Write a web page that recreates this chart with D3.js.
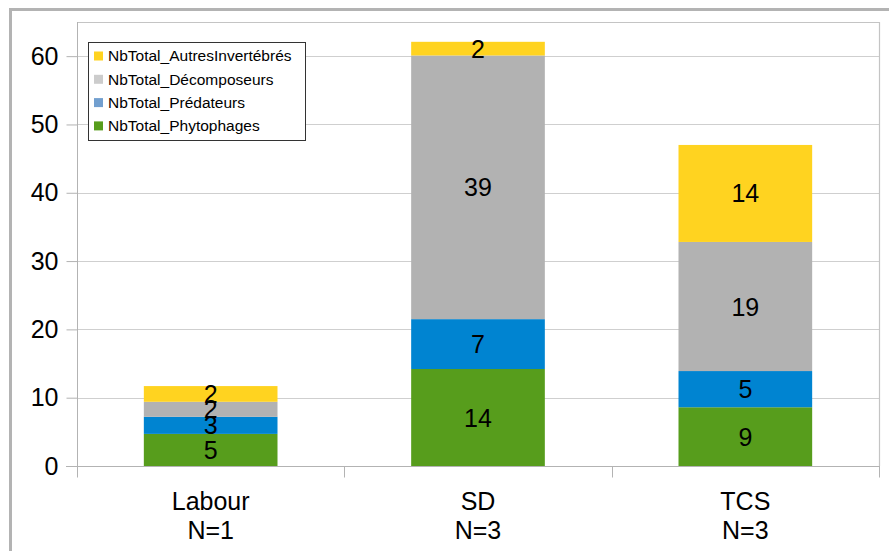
<!DOCTYPE html>
<html>
<head>
<meta charset="utf-8">
<script src="https://cdn.jsdelivr.net/npm/d3@7"></script>
<style>
  body { margin: 0; background: #fff; }
  text { font-family: "Liberation Sans", Arial, sans-serif; }
</style>
</head>
<body>
<svg id="chart" width="889" height="551"></svg>
<script>
// data (means, labels are rounded)
const categories = ["Labour", "SD", "TCS"]
const counts = ["N=1", "N=3", "N=3"]
const seriesNames = ["NbTotal_Phytophages", "NbTotal_Prédateurs", "NbTotal_Décomposeurs", "NbTotal_AutresInvertébrés"]
const phytophages = [4.7, 14.2, 8.6]
const predateurs = [2.5, 7.3, 5.3]
const decomposeurs = [2.2, 38.6, 18.9]
const autres = [2.3, 2.0, 14.2]
const yTicks = [0, 10, 20, 30, 40, 50, 60]

const barColors = ["#579d1c", "#0084d1", "#b2b2b2", "#ffd320"]
const legendColors = ["#579d1c", "#729fcf", "#cccccc", "#ffd320"]

const rows = categories.map((c, i) => ({
    cat: c,
    s0: phytophages[i],
    s1: predateurs[i],
    s2: decomposeurs[i],
    s3: autres[i]
}))
const keys = ["s0", "s1", "s2", "s3"]
const stacked = d3.stack().keys(keys)(rows)

let svg = d3.select("#chart")
let margin = {left: 77, right: 10, top: 22, bottom: 85}
let x0 = 77, x1 = 879, y0 = 466, yTop = 22

// outer frame of the chart object
svg.append("path")
    .attr("d", "M10.5,560 V9.5 H900")
    .attr("fill", "none")
    .attr("stroke", "#b3b3b3")
    .attr("stroke-width", 3)

let x = d3.scaleBand()
    .domain(categories)
    .range([x0, x1])
    .paddingInner(0.5)
    .paddingOuter(0.25)
let y = d3.scaleLinear().domain([0, 65]).range([y0, yTop])

// grid
svg.append("g").selectAll("line").data(yTicks.filter(d => d > 0)).enter().append("line")
    .attr("x1", x0).attr("x2", x1)
    .attr("y1", d => Math.round(y(d)) + 0.5).attr("y2", d => Math.round(y(d)) + 0.5)
    .attr("stroke", "#cfcfcf").attr("stroke-width", 1.2)

// plot border top/right
svg.append("path")
    .attr("d", `M${x0},${yTop + 0.5} H${x1 + 0.5} V${y0}`)
    .attr("fill", "none").attr("stroke", "#c4c4c4").attr("stroke-width", 1.2)

// bars
let layer = svg.append("g").selectAll("g").data(stacked).enter().append("g")
    .attr("fill", (d, i) => barColors[i])
layer.selectAll("rect").data(d => d).enter().append("rect")
    .attr("x", d => x(d.data.cat))
    .attr("width", x.bandwidth())
    .attr("y", d => y(d[1]))
    .attr("height", d => y(d[0]) - y(d[1]))

// data labels
let lbl = svg.append("g").selectAll("g").data(stacked).enter().append("g")
lbl.selectAll("text").data(d => d).enter().append("text")
    .attr("x", d => x(d.data.cat) + x.bandwidth() / 2)
    .attr("y", d => (y(d[0]) + y(d[1])) / 2)
    .attr("dy", "0.36em")
    .attr("text-anchor", "middle")
    .attr("font-size", 25)
    .attr("fill", "#000")
    .text(d => Math.round(d[1] - d[0]))

// y axis
let yAxis = svg.append("g")
    .attr("transform", `translate(${x0 + 0.5},0)`)
    .call(d3.axisLeft(y).tickValues(yTicks).tickSize(11).tickPadding(8).tickFormat(d3.format("d")))
yAxis.select(".domain").attr("stroke", "#b3b3b3").attr("d", `M0,${yTop} V${y0 + 11}`)
yAxis.selectAll(".tick line").attr("stroke", "#b3b3b3")
yAxis.selectAll(".tick text").attr("font-size", 25).attr("fill", "#000")
    .attr("font-family", "Liberation Sans, Arial, sans-serif")

// x axis
let xAxis = svg.append("g")
    .attr("transform", `translate(0,${y0 + 0.5})`)
xAxis.append("line").attr("x1", x0 - 11).attr("x2", x1 + 1)
    .attr("stroke", "#b3b3b3").attr("stroke-width", 1.2)
let step = x.step()
xAxis.selectAll("line.sep").data(d3.range(categories.length + 1)).enter().append("line")
    .attr("class", "sep")
    .attr("x1", i => Math.round(x0 + i * step) + 0.5).attr("x2", i => Math.round(x0 + i * step) + 0.5)
    .attr("y1", 0).attr("y2", 11)
    .attr("stroke", "#b3b3b3")
let catLabels = xAxis.selectAll("text.cat").data(categories).enter().append("text")
    .attr("class", "cat")
    .attr("text-anchor", "middle")
    .attr("font-size", 25)
    .attr("fill", "#000")
    .attr("transform", d => `translate(${x(d) + x.bandwidth() / 2},0)`)
catLabels.append("tspan").attr("x", 0).attr("y", 43).text(d => d)
catLabels.append("tspan").attr("x", 0).attr("y", 72).text((d, i) => counts[i])

// legend (reverse order, top = last series)
let legend = svg.append("g").attr("transform", "translate(88,42)")
legend.append("rect")
    .attr("x", 0.5).attr("y", 0.5).attr("width", 217).attr("height", 98)
    .attr("fill", "#fff").attr("stroke", "#333").attr("stroke-width", 1)
let items = legend.selectAll("g.item").data(seriesNames.map((n, i) => ({n, i})).reverse())
    .enter().append("g").attr("class", "item")
    .attr("transform", (d, j) => `translate(0,${14 + j * 23.3})`)
items.append("rect")
    .attr("x", 6).attr("y", -4.5).attr("width", 9).attr("height", 9)
    .attr("fill", d => legendColors[d.i])
items.append("text")
    .attr("x", 20).attr("y", 0).attr("dy", "0.35em")
    .attr("font-size", 15.5)
    .attr("fill", "#000")
    .text(d => d.n)
</script>
</body>
</html>
